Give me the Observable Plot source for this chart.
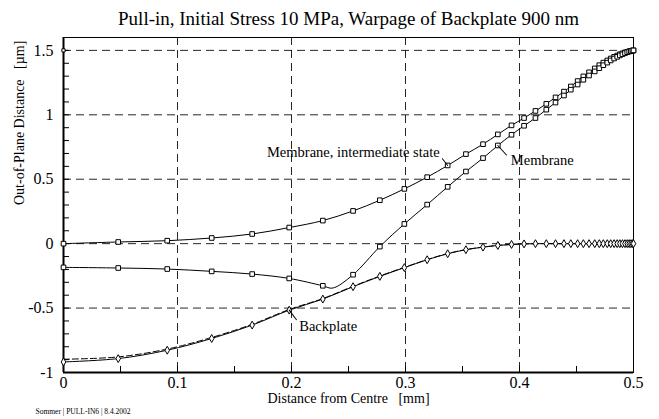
<!DOCTYPE html>
<html><head><meta charset="utf-8">
<script src="https://cdn.jsdelivr.net/npm/d3@7"></script>
<script src="https://cdn.jsdelivr.net/npm/@observablehq/plot@0.6"></script>
<style>
body{margin:0;background:#fff}
svg text{white-space:pre;font-family:'Liberation Serif','Times New Roman',Times,serif !important}
</style>
</head><body><div id="chart"></div>
<script>
// ---- Data ----
const titleText = "Pull-in, Initial Stress 10 MPa, Warpage of Backplate 900 nm";
const xLabelText = "Distance from Centre   [mm]";
const yLabelText = "Out-of-Plane Distance   [µm]";
const footerText = "Sommer | PULL-IN6 | 8.4.2002";

const xDomain = [0, 0.5];
const yDomain = [-1, 1.6];
const xTicks = [0, 0.1, 0.2, 0.3, 0.4, 0.5];
const xTickLabels = ["0", "0.1", "0.2", "0.3", "0.4", "0.5"];
const yTicks = [-1, -0.5, 0, 0.5, 1, 1.5];
const yTickLabels = ["-1", "-0.5", "0", "0.5", "1", "1.5"];
const xGrid = [0.1, 0.2, 0.3, 0.4];
const yGrid = [-0.5, 0, 0.5, 1, 1.5];
const xMinorTicks = [0.05, 0.1, 0.15, 0.2, 0.25, 0.3, 0.35, 0.4, 0.45];
const yMinorTicks = [-0.9, -0.8, -0.7, -0.6, -0.5, -0.4, -0.3, -0.2, -0.1, 0, 0.1, 0.2, 0.3, 0.4, 0.5,
  0.6, 0.7, 0.8, 0.9, 1, 1.1, 1.2, 1.3, 1.4, 1.5];

// radial mesh positions (mm)
const meshX = [0, 0.048, 0.091, 0.130, 0.1655, 0.198, 0.2275, 0.254, 0.2775, 0.299,
  0.319, 0.337, 0.353, 0.368, 0.381, 0.393, 0.404, 0.414, 0.4235, 0.4316,
  0.439, 0.445, 0.451, 0.456, 0.461, 0.466, 0.470, 0.4735, 0.477, 0.480,
  0.483, 0.4857, 0.488, 0.4903, 0.4925, 0.4945, 0.4962, 0.4977, 0.499, 0.5];

const membraneIntermediate = [0, 0.013, 0.023, 0.044, 0.075, 0.125, 0.179, 0.254, 0.337, 0.425,
  0.516, 0.607, 0.695, 0.772, 0.848, 0.918, 0.975, 1.03, 1.085, 1.135,
  1.18, 1.22, 1.262, 1.298, 1.33, 1.36, 1.385, 1.405, 1.422, 1.437,
  1.45, 1.46, 1.47, 1.477, 1.484, 1.489, 1.493, 1.496, 1.498, 1.5];

const membraneFinal = [-0.184, -0.189, -0.197, -0.215, -0.236, -0.27, -0.327, -0.241, -0.023, 0.153,
  0.303, 0.441, 0.56, 0.664, 0.762, 0.845, 0.915, 0.975, 1.04, 1.095,
  1.15, 1.195, 1.235, 1.272, 1.305, 1.337, 1.362, 1.385, 1.405, 1.422,
  1.437, 1.45, 1.461, 1.47, 1.479, 1.486, 1.491, 1.495, 1.498, 1.5];

// the membrane line dips between two mesh points
const membraneDipX = [0.236];
const membraneDipY = [-0.345];

const backplate = [-0.918, -0.892, -0.827, -0.736, -0.632, -0.516, -0.43, -0.334, -0.254, -0.186,
  -0.125, -0.078, -0.047, -0.027, -0.014, -0.006, -0.002, 0, 0, 0,
  0, 0, 0, 0, 0, 0, 0, 0, 0, 0,
  0, 0, 0, 0, 0, 0, 0, 0, 0, 0];

const backplateDashed = [-0.897, -0.879, -0.818, -0.728, -0.626, -0.511, -0.426, -0.331, -0.251, -0.184,
  -0.124, -0.077, -0.046, -0.027, -0.014, -0.006, -0.002, 0, 0, 0,
  0, 0, 0, 0, 0, 0, 0, 0, 0, 0,
  0, 0, 0, 0, 0, 0, 0, 0, 0, 0];

// small square on the y axis at the top gridline
const axisMarkerX = [0];
const axisMarkerY = [1.5];

// annotations: label, series, mesh index of the point they point to
const annotationLabels = ["Membrane, intermediate state", "Membrane", "Backplate"];
const annotationSeries = ["intermediate", "final", "backplate"];
const annotationIndex = [11, 14, 5];

// ---- Build tables ----
const interRows = meshX.map((x, i) => ({x, y: membraneIntermediate[i]}));
const finalRows = meshX.map((x, i) => ({x, y: membraneFinal[i]}));
const finalLineRows = finalRows.concat(membraneDipX.map((x, i) => ({x, y: membraneDipY[i]}))).sort((a, b) => a.x - b.x);
const backRows = meshX.map((x, i) => ({x, y: backplate[i]}));
const backDashRows = meshX.map((x, i) => ({x, y: backplateDashed[i]}));
const axisMarkerRows = axisMarkerX.map((x, i) => ({x, y: axisMarkerY[i]}));
const seriesValues = {intermediate: membraneIntermediate, final: membraneFinal, backplate: backplate};
const annRows = annotationLabels.map((label, i) => ({
  label, x: meshX[annotationIndex[i]], y: seriesValues[annotationSeries[i]][annotationIndex[i]]
}));
const xLabelMap = new Map(xTicks.map((t, i) => [t, xTickLabels[i]]));
const yLabelMap = new Map(yTicks.map((t, i) => [t, yTickLabels[i]]));

const font = "'Liberation Serif', 'Times New Roman', Times, serif";
const dash = "8,5";
const leader = {draw(context, l) { context.moveTo(0, 0); context.lineTo(0, -l); }};

const chart = Plot.plot({
  width: 659,
  height: 419,
  marginLeft: 63,
  marginRight: 26,
  marginTop: 37,
  marginBottom: 47,
  style: {"font-family": font, "font-size": "16px", "background": "#fff", "color": "#000", "overflow": "visible"},
  x: {domain: xDomain, label: null},
  y: {domain: yDomain, label: null},
  marks: [
    Plot.gridX(xGrid, {stroke: "#000", strokeOpacity: 0.85, strokeDasharray: dash}),
    Plot.gridY(yGrid, {stroke: "#000", strokeOpacity: 0.85, strokeDasharray: dash}),
    Plot.frame({stroke: "#000", strokeWidth: 1}),
    Plot.ruleX([xDomain[0]], {stroke: "#000", strokeWidth: 2}),
    Plot.ruleY([yDomain[0]], {stroke: "#000", strokeWidth: 2}),
    // inward minor ticks
    Plot.axisX({ticks: xMinorTicks, tickSize: -6, tickFormat: () => "", label: null}),
    Plot.axisY({ticks: yMinorTicks, tickSize: -6, tickFormat: () => "", label: null}),
    // tick labels
    Plot.axisX({ticks: xTicks, tickSize: 0, tickPadding: 4, tickFormat: d => xLabelMap.get(d), fontSize: 16, fontFamily: font, label: null}),
    Plot.axisY({ticks: yTicks, tickSize: 0, tickPadding: 10, tickFormat: d => yLabelMap.get(d), fontSize: 16, fontFamily: font, label: null}),
    // series
    Plot.line(backDashRows, {x: "x", y: "y", stroke: "#000", strokeWidth: 1, strokeDasharray: "6,3", curve: "catmull-rom"}),
    Plot.line(backRows, {x: "x", y: "y", stroke: "#000", strokeWidth: 1, curve: "catmull-rom"}),
    Plot.line(interRows, {x: "x", y: "y", stroke: "#000", strokeWidth: 1, curve: "catmull-rom"}),
    Plot.line(finalLineRows, {x: "x", y: "y", stroke: "#000", strokeWidth: 1, curve: "catmull-rom"}),
    Plot.dot(backRows, {x: "x", y: "y", symbol: "diamond", r: 2.4, fill: "#fff", stroke: "#000", strokeWidth: 1}),
    Plot.dot(interRows, {x: "x", y: "y", symbol: "square", r: 2.6, fill: "#fff", stroke: "#000", strokeWidth: 1}),
    Plot.dot(finalRows, {x: "x", y: "y", symbol: "square", r: 2.6, fill: "#fff", stroke: "#000", strokeWidth: 1}),
    Plot.dot(axisMarkerRows, {x: "x", y: "y", symbol: "square", r: 1.8, fill: "#fff", stroke: "#000", strokeWidth: 1}),
    // annotation leaders and labels
    Plot.vector(annRows, {x: "x", y: "y", anchor: "start", length: [10, 15, 14], rotate: [-38, 138, 143], stroke: "#000", strokeWidth: 1, shape: leader}),
    Plot.text(annRows.slice(0, 1), {x: "x", y: "y", text: "label", textAnchor: "end", dx: -8, dy: -13, fontSize: 14.5, fontFamily: font}),
    Plot.text(annRows.slice(1, 2), {x: "x", y: "y", text: "label", textAnchor: "start", dx: 13, dy: 15, fontSize: 14.5, fontFamily: font}),
    Plot.text(annRows.slice(2, 3), {x: "x", y: "y", text: "label", textAnchor: "start", dx: 10, dy: 16, fontSize: 14.5, fontFamily: font}),
    // title, axis labels, footer
    Plot.text([titleText], {frameAnchor: "top", dy: -26, fontSize: 19, fontFamily: font}),
    Plot.text([xLabelText], {frameAnchor: "bottom", dy: 30, fontSize: 14, fontFamily: font}),
    Plot.text([yLabelText], {frameAnchor: "left", dx: -44, rotate: -90, fontSize: 14, fontFamily: font}),
    Plot.text([footerText], {frameAnchor: "bottom-left", dx: -28, dy: 41, textAnchor: "start", fontSize: 7.5, fontFamily: font})
  ]
});
document.getElementById("chart").appendChild(chart);
</script>
</body></html>
